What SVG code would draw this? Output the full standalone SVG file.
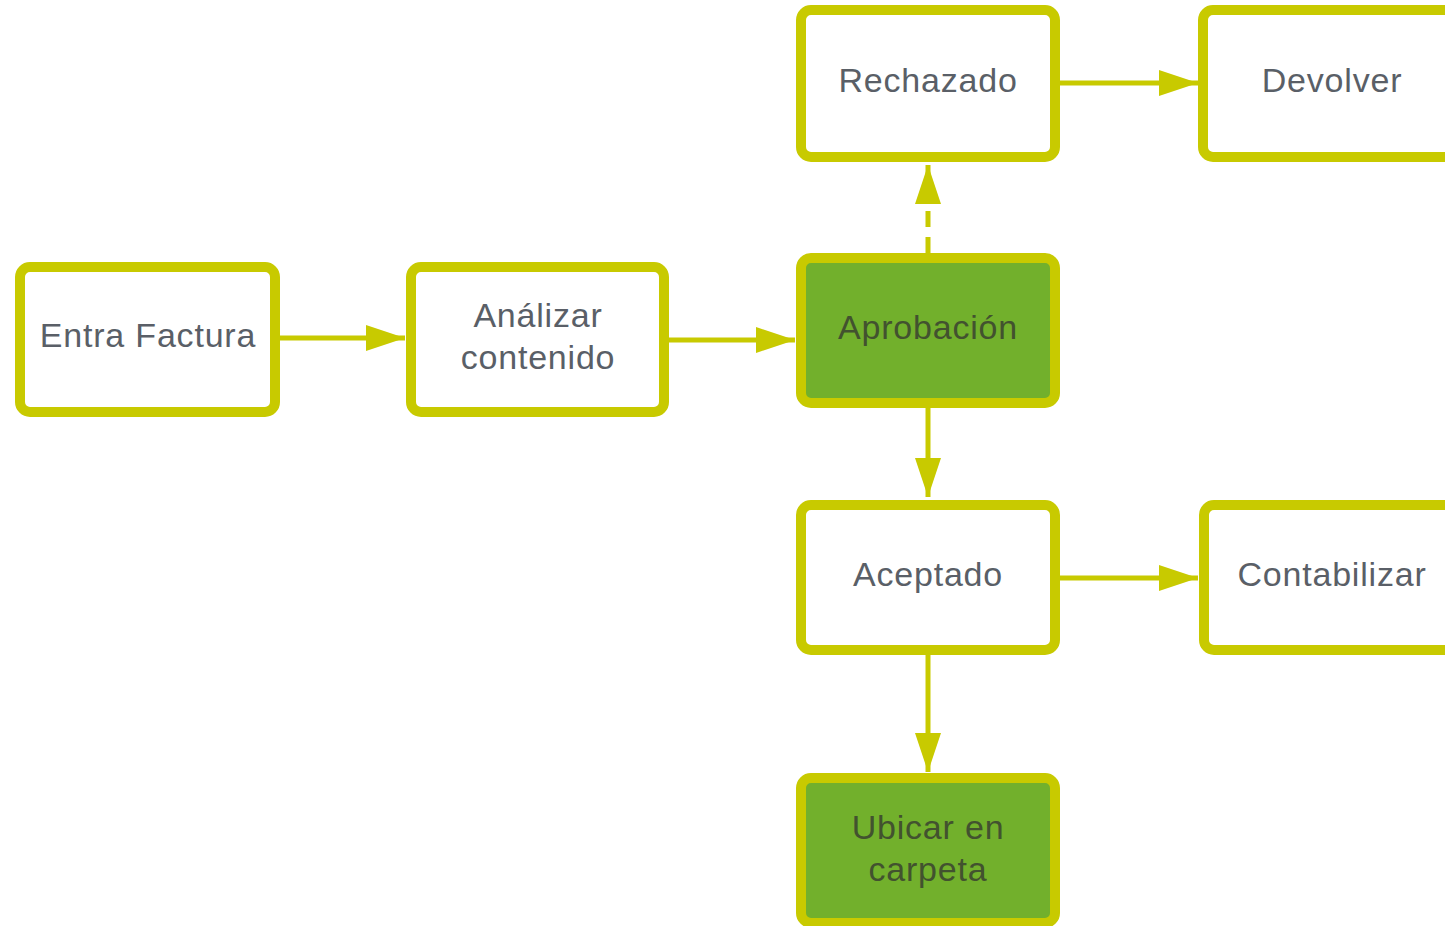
<svg xmlns="http://www.w3.org/2000/svg" width="1445" height="926" viewBox="0 0 1445 926">
<defs>
<style>
.box{fill:#ffffff;stroke:#c8ca00;stroke-width:10}
.gbox{fill:#72b02c;stroke:#c8ca00;stroke-width:10}
.t{font-family:"Liberation Sans",Arial,sans-serif;font-size:34px;letter-spacing:0.8px;fill:#5a5f67;text-anchor:middle}
.tg{font-family:"Liberation Sans",Arial,sans-serif;font-size:34px;letter-spacing:0.8px;fill:#42522f;text-anchor:middle}
.c{fill:none;stroke:#c8ca00;stroke-width:5}
.d{stroke-dasharray:16 10}
</style>
<marker id="ah" markerUnits="userSpaceOnUse" markerWidth="40" markerHeight="26" viewBox="0 0 36 24" refX="36" refY="12" orient="auto">
<polygon points="0,0 36,12 0,24" fill="#c8ca00"/>
</marker>
</defs>
<rect width="1445" height="926" fill="#ffffff"/>
<g id="connectors">
<line class="c" x1="280" y1="338" x2="405" y2="338" marker-end="url(#ah)"/>
<line class="c" x1="669" y1="340" x2="795" y2="340" marker-end="url(#ah)"/>
<line class="c d" x1="928" y1="253" x2="928" y2="165" marker-end="url(#ah)"/>
<line class="c" x1="1060" y1="83" x2="1198" y2="83" marker-end="url(#ah)"/>
<line class="c" x1="928" y1="408" x2="928" y2="497" marker-end="url(#ah)"/>
<line class="c" x1="1060" y1="578" x2="1198" y2="578" marker-end="url(#ah)"/>
<line class="c" x1="928" y1="655" x2="928" y2="772" marker-end="url(#ah)"/>
</g>
<g id="entra">
<rect class="box" x="20" y="267" width="255" height="145" rx="10"/>
<text class="t" x="148" y="347">Entra Factura</text>
</g>
<g id="analizar">
<rect class="box" x="411" y="267" width="253" height="145" rx="10"/>
<text class="t" x="538" y="327">Análizar</text>
<text class="t" x="538" y="369">contenido</text>
</g>
<g id="aprobacion">
<rect class="gbox" x="801" y="258" width="254" height="145" rx="10"/>
<text class="tg" x="928" y="339">Aprobación</text>
</g>
<g id="rechazado">
<rect class="box" x="801" y="10" width="254" height="147" rx="10"/>
<text class="t" x="928" y="92">Rechazado</text>
</g>
<g id="devolver">
<rect class="box" x="1203" y="10" width="262" height="147" rx="10"/>
<text class="t" x="1332" y="92">Devolver</text>
</g>
<g id="aceptado">
<rect class="box" x="801" y="505" width="254" height="145" rx="10"/>
<text class="t" x="928" y="586">Aceptado</text>
</g>
<g id="contabilizar">
<rect class="box" x="1204" y="505" width="262" height="145" rx="10"/>
<text class="t" x="1332" y="586">Contabilizar</text>
</g>
<g id="ubicar">
<rect class="gbox" x="801" y="778" width="254" height="145" rx="10"/>
<text class="tg" x="928" y="839">Ubicar en</text>
<text class="tg" x="928" y="881">carpeta</text>
</g>
</svg>
